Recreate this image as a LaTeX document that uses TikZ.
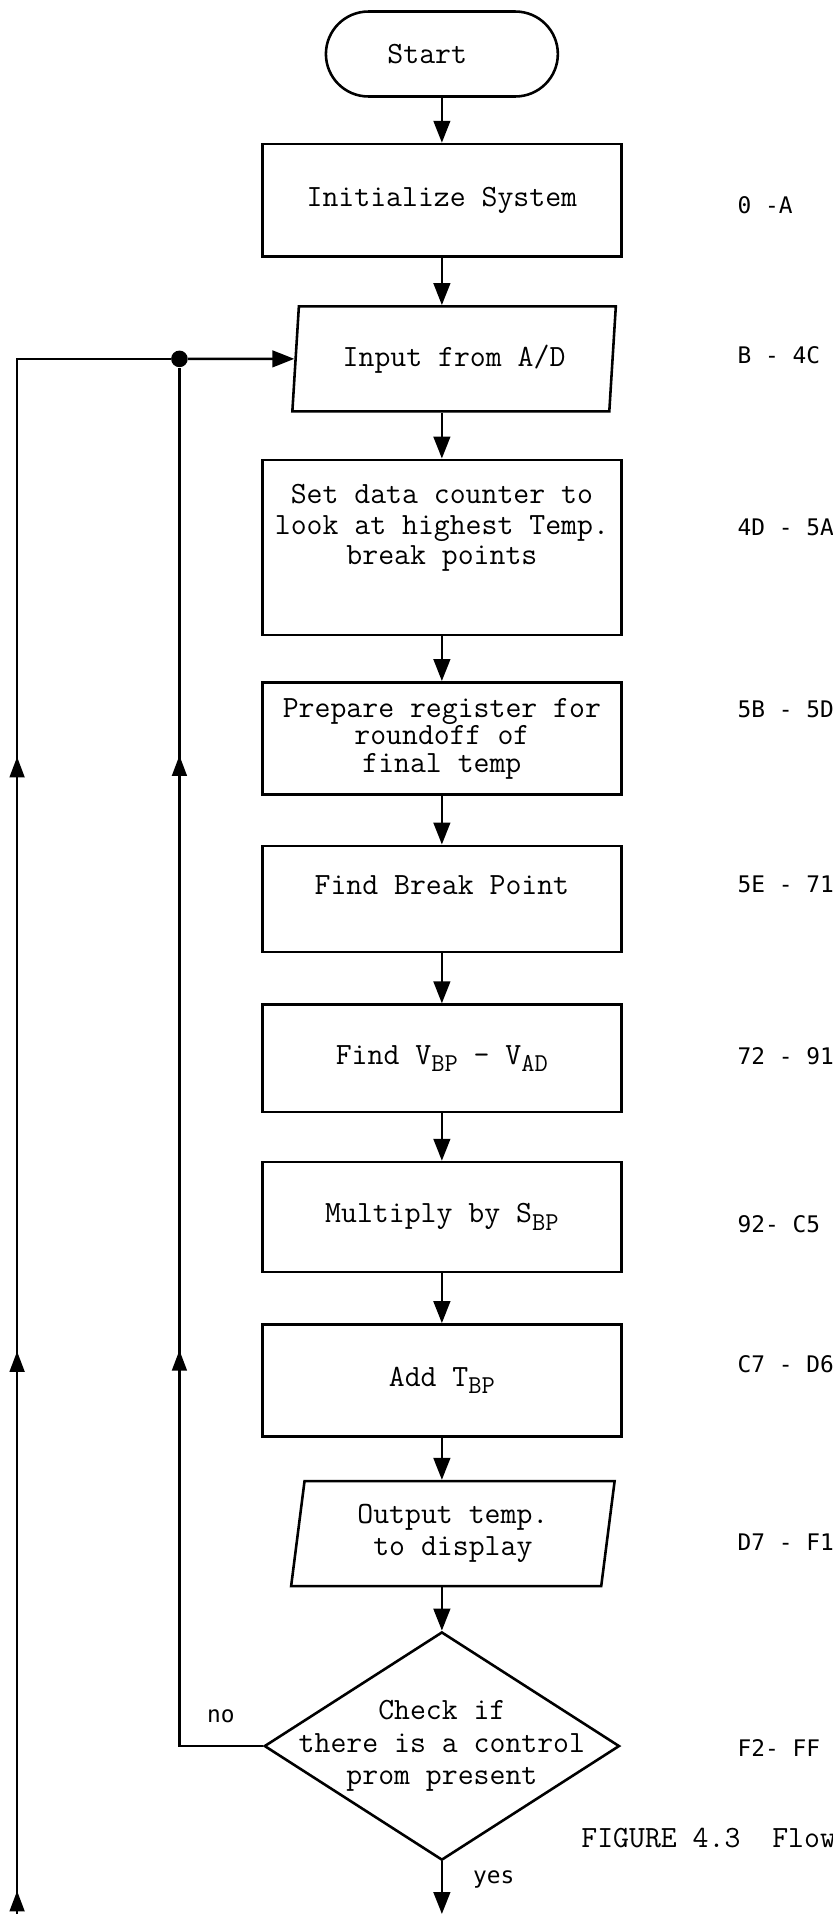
\documentclass[tikz,border=0pt]{standalone}
\usepackage{fontspec}
\newfontfamily\rangefont{DejaVu Sans Mono}
\usetikzlibrary{positioning,calc,shapes.geometric,arrows.meta,decorations.markings}
\newcommand{\lowsub}[1]{\raisebox{-0.55ex}{\fontsize{15}{15}\selectfont #1}}
\newcommand{\addrange}[3]{%
  \node[anchor=west,inner sep=0pt,font=\rangefont\fontsize{13.3}{15}\selectfont]
        (#1) at (15.1,#2) {#3};
}
\tikzset{
  flowline/.style={line width=1.5pt},
  flowarrow/.style={flowline,-{Triangle[length=0.45cm,width=0.34cm]}},
  boxtext/.style={align=center,inner sep=0pt,font=\ttfamily\fontsize{18}{#1}\selectfont},
  boxtext/.default=18,
  procbox/.style={draw,flowline,minimum width=7.35cm,minimum height=#1,inner sep=0pt},
  iobox/.style={draw,flowline,trapezium,trapezium left angle=77,trapezium right angle=103,
        trapezium stretches body,minimum width=6.625cm,minimum height=2.15cm,inner sep=0pt},
  decision/.style={draw,flowline,diamond,minimum width=7.275cm,minimum height=4.675cm,inner sep=0pt},
  smalltag/.style={inner sep=0pt,font=\rangefont\fontsize{13.3}{15}\selectfont},
}
\begin{document}
\begin{tikzpicture}
  \useasboundingbox (0,0) rectangle (17.05,-39.2);
  \node[draw,flowline,rounded corners=0.87cm,minimum width=4.75cm,minimum height=1.74cm]
        (start) at (9.05,-1.106) {};
  \node[boxtext] (start-t) at ($(start)+(-0.3,0)$) {Start};
  \node[procbox=2.3cm,boxtext] (init) at (9.05,-4.1) {Initialize System};
  \node[iobox,boxtext] (input) at (9.3,-7.35) {Input from A/D};
  \node[procbox=3.585cm] (setdata) at (9.05,-11.21) {};
  \node[boxtext=17.5] (setdata-t) at ($(setdata)+(0,0.4)$)
        {Set data counter to\\look at highest Temp.\\break points};
  \node[procbox=2.3cm,boxtext=16] (prepare) at (9.05,-15.125)
        {Prepare register for\\roundoff of\\final temp};
  \node[procbox=2.175cm] (findbp) at (9.05,-18.41) {};
  \node[boxtext] (findbp-t) at ($(findbp)+(0,0.29)$) {Find Break Point};
  \node[procbox=2.2cm,boxtext] (diff) at (9.05,-21.675) {Find V\lowsub{BP} - V\lowsub{AD}};
  \node[procbox=2.25cm,boxtext] (mult) at (9.05,-24.925) {Multiply by S\lowsub{BP}};
  \node[procbox=2.3cm,boxtext] (add) at (9.05,-28.275) {Add T\lowsub{BP}};
  \node[iobox,boxtext=18.5] (output) at (9.275,-31.41) {Output temp.\\to display};
  \node[decision] (check) at (9.05,-35.76) {};
  \node[boxtext=19] (check-t) at (check.center) {Check if\\there is a control\\prom present};
  \coordinate (yesfoot) at (9.05,-39.2);
  \coordinate (outerfoot) at (0.35,-39.2);
  \node[circle,fill,inner sep=0pt,minimum size=0.34cm] (junction) at (3.675,-7.35) {};

  \draw[flowarrow] (start) -- (init);
  \draw[flowarrow] (init) -- (init.south |- input.north);
  \draw[flowarrow] (input.south -| setdata) -- (setdata);
  \draw[flowarrow] (setdata) -- (prepare);
  \draw[flowarrow] (prepare) -- (findbp);
  \draw[flowarrow] (findbp) -- (diff);
  \draw[flowarrow] (diff) -- (mult);
  \draw[flowarrow] (mult) -- (add);
  \draw[flowarrow] (add) -- (add.south |- output.north);
  \draw[flowarrow] (output.south -| check) -- (check);
  \draw[flowarrow] (check) -- (yesfoot);

  \draw[flowline,postaction={decorate},decoration={markings,
        mark=at position 0.475cm with {\arrow{Triangle[length=0.42cm,width=0.3cm]}},
        mark=at position 11.525cm with {\arrow{Triangle[length=0.42cm,width=0.3cm]}},
        mark=at position 23.7cm with {\arrow{Triangle[length=0.42cm,width=0.3cm]}}}]
        (outerfoot) |- (junction);
  \draw[flowline,postaction={decorate},decoration={markings,
        mark=at position 9.82cm with {\arrow{Triangle[length=0.42cm,width=0.3cm]}},
        mark=at position 22.0cm with {\arrow{Triangle[length=0.42cm,width=0.3cm]}}}]
        (check.west) -| (junction);
  \draw[flowarrow] (junction) -- (input.west);

  \node[smalltag] (no) at (4.525,-35.15) {no};
  \node[smalltag] (yes) at (10.11,-38.5) {yes};

  \addrange{r-init}{-4.2}{0 -A}
  \addrange{r-input}{-7.265}{B - 4C}
  \addrange{r-setdata}{-10.8}{4D - 5A}
  \addrange{r-prepare}{-14.525}{5B - 5D}
  \addrange{r-findbp}{-18.11}{5E - 71}
  \addrange{r-diff}{-21.625}{72 - 91}
  \addrange{r-mult}{-25.075}{92- C5}
  \addrange{r-add}{-27.94}{C7 - D6}
  \addrange{r-output}{-31.59}{D7 - F1}
  \addrange{r-check}{-35.8}{F2- FF}

  \node[anchor=west,inner sep=0pt,font=\ttfamily\fontsize{18}{20}\selectfont]
        (caption) at (11.9,-37.65) {FIGURE 4.3\ \ Flow};
\end{tikzpicture}
\end{document}
